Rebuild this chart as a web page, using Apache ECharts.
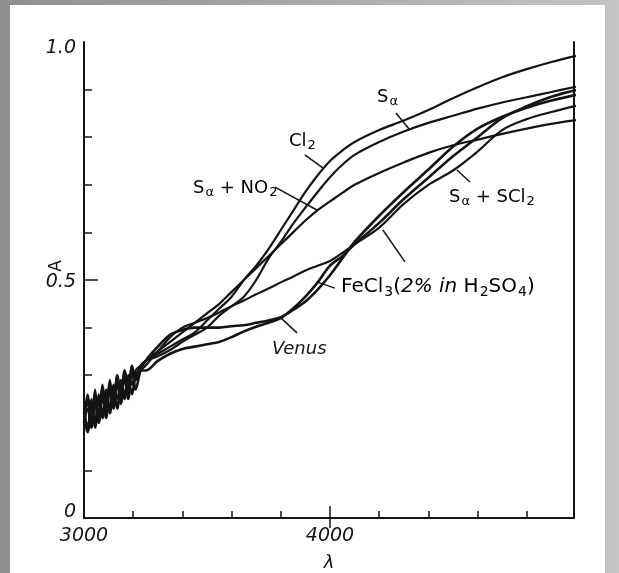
<!DOCTYPE html>
<html><head><meta charset="utf-8">
<script src="https://cdn.jsdelivr.net/npm/echarts@6/dist/echarts.min.js"></script>
<style>html,body{margin:0;padding:0;}#c{width:619px;height:573px;}</style>
</head><body><div id="c"></div>
<script>
var wigLam = [3000,3015,3030,3045,3060,3075,3090,3105,3120,3135,3150,3165,3180,3195,3210,3230];
var lamMain = [3250,3300,3350,3400,3450,3500,3550,3600,3650,3700,3750,3800,3850,3900,3950,4000,4050,4100,4200,4300,4400,4500,4600,4700,4800,4900,5000];

var cl2Wig   = [0.21,0.26,0.20,0.27,0.21,0.28,0.23,0.29,0.24,0.30,0.26,0.31,0.27,0.32,0.29,0.32];
var cl2Main  = [0.33,0.345,0.36,0.375,0.39,0.415,0.44,0.465,0.50,0.53,0.565,0.605,0.645,0.685,0.72,0.75,0.772,0.79,0.815,0.835,0.857,0.882,0.905,0.926,0.943,0.958,0.971];

var saWig    = [0.23,0.19,0.25,0.20,0.26,0.22,0.27,0.23,0.28,0.25,0.29,0.26,0.30,0.28,0.31,0.32];
var saMain   = [0.33,0.34,0.353,0.37,0.385,0.40,0.425,0.445,0.465,0.50,0.545,0.58,0.618,0.652,0.685,0.716,0.742,0.763,0.79,0.812,0.83,0.845,0.86,0.873,0.884,0.895,0.906];

var no2Wig   = [0.20,0.24,0.21,0.25,0.22,0.26,0.23,0.27,0.25,0.29,0.26,0.30,0.27,0.31,0.30,0.32];
var no2Main  = [0.33,0.35,0.37,0.39,0.41,0.43,0.45,0.475,0.50,0.525,0.55,0.575,0.60,0.625,0.647,0.665,0.683,0.70,0.725,0.747,0.767,0.783,0.795,0.807,0.818,0.828,0.836];

var scl2Wig  = [0.18,0.23,0.19,0.24,0.20,0.25,0.22,0.27,0.23,0.28,0.25,0.29,0.26,0.30,0.29,0.31];
var scl2Main = [0.32,0.35,0.38,0.40,0.41,0.42,0.432,0.445,0.457,0.47,0.482,0.495,0.507,0.52,0.53,0.54,0.557,0.575,0.61,0.66,0.70,0.73,0.77,0.815,0.838,0.853,0.866];

var fecl3Wig = [0.22,0.18,0.24,0.19,0.25,0.21,0.26,0.22,0.27,0.23,0.28,0.25,0.29,0.26,0.30,0.31];
var fecl3Main= [0.31,0.33,0.345,0.355,0.36,0.365,0.37,0.38,0.392,0.402,0.41,0.42,0.44,0.465,0.495,0.53,0.55,0.575,0.62,0.67,0.715,0.76,0.80,0.84,0.865,0.885,0.899];

var venusWig = [0.20,0.25,0.19,0.26,0.20,0.27,0.21,0.28,0.23,0.30,0.24,0.31,0.25,0.32,0.27,0.31];
var venusMain= [0.33,0.36,0.385,0.395,0.40,0.40,0.40,0.403,0.405,0.41,0.415,0.422,0.437,0.455,0.48,0.51,0.545,0.58,0.635,0.685,0.732,0.78,0.818,0.843,0.862,0.877,0.889];

var xTickLabels = [3000,4000];
var yTickLabels = [0,0.5,1.0];

function pairs(lw, aw, lm, am){
  var out=[];
  for(var i=0;i<lw.length;i++) out.push([lw[i],aw[i]]);
  for(var j=0;j<lm.length;j++) out.push([lm[j],am[j]]);
  return out;
}

var chart = echarts.init(document.getElementById('c'), null, {renderer:'canvas'});
var ink = '#141414';
function lineSeries(name, data, w){
  return {name:name, type:'line', data:data, showSymbol:false, smooth:0.35,
    lineStyle:{color:ink, width:w||2.2}, silent:true, z:3};
}
function leader(a,b){ return [{coord:a},{coord:b}]; }
var fontFam = '"DejaVu Sans",sans-serif';
var richSet = {
  n:{fontSize:18, fontFamily:fontFam, color:ink},
  s:{fontSize:13, fontFamily:fontFam, padding:[10,0,0,1], color:ink},
  i:{fontSize:18, fontFamily:fontFam, color:ink, fontStyle:'italic'}
};
var richBig = {
  n:{fontSize:20, fontFamily:fontFam, color:ink},
  s:{fontSize:14, fontFamily:fontFam, padding:[11,0,0,1], color:ink},
  i:{fontSize:20, fontFamily:fontFam, color:ink, fontStyle:'italic'}
};
function label(x, y, txt, rich){
  return {type:'text', x:x, y:y, z:20, silent:true,
    style:{text:txt, rich:rich||richSet, align:'left', verticalAlign:'middle'}};
}

var option = {
  animation:false,
  backgroundColor:{type:'linear',x:0,y:0,x2:1,y2:0,colorStops:[{offset:0,color:'#8e8e8e'},{offset:1,color:'#c4c4c4'}]},
  graphic:[
    {type:'rect', shape:{x:10,y:5,width:595,height:568}, style:{fill:'#ffffff'}, z:-10, silent:true},
    label(377, 97, '{n|S}{s|α}'),
    label(289, 141, '{n|Cl}{s|2}'),
    label(193, 188, '{n|S}{s|α}{n| + NO}{s|2}'),
    label(449, 197, '{n|S}{s|α}{n| + SCl}{s|2}'),
    label(341, 287, '{n|FeCl}{s|3}{n|(}{i|2% in }{n|H}{s|2}{n|SO}{s|4}{n|)}', richBig),
    {type:'text', x:272, y:349, z:20, silent:true,
     style:{text:'Venus', font:'italic 18px "DejaVu Sans",sans-serif', fill:ink, align:'left', verticalAlign:'middle'}},
    {type:'text', x:57, y:266, rotation:Math.PI/2, z:20, silent:true,
     style:{text:'A', font:'17px "DejaVu Sans",sans-serif', fill:ink, align:'center', verticalAlign:'middle'}}
  ],
  grid:{left:84, right:45, top:42, bottom:55, outerBoundsMode:'none', containLabel:false},
  xAxis:[
    {type:'value', min:3000, max:4992, interval:200, position:'bottom',
     name:'λ', nameLocation:'middle', nameGap:36, nameMoveOverlap:false,
     nameTextStyle:{fontSize:18, fontStyle:'italic', color:ink, fontFamily:'"DejaVu Sans",sans-serif'},
     axisLine:{show:true, lineStyle:{color:ink, width:2}},
     axisTick:{show:true, inside:true, length:7, lineStyle:{color:ink,width:1.5}, customValues:[3200,3400,3600,3800,4200,4400,4600,4800]},
     axisLabel:{customValues:xTickLabels, margin:9, fontSize:19, fontStyle:'italic', color:ink, fontFamily:'"DejaVu Sans",sans-serif',
       formatter:function(v){ return String(v); }},
     splitLine:{show:false}},
    {type:'value', min:3000, max:4992, interval:200, position:'bottom',
     axisLine:{show:false},
     axisTick:{show:true, inside:true, length:12, lineStyle:{color:ink,width:1.5}, customValues:[4000]},
     axisLabel:{show:false}, splitLine:{show:false}},
    {type:'value', min:3000, max:4992, interval:200, position:'top',
     axisLine:{show:true, lineStyle:{color:ink, width:2}},
     axisTick:{show:true, inside:true, length:10, lineStyle:{color:ink,width:1.5}, customValues:[4000]},
     axisLabel:{show:false}, splitLine:{show:false}}
  ],
  yAxis:[
    {type:'value', min:0, max:1, interval:0.1, position:'left',
     axisLine:{show:true, lineStyle:{color:ink, width:2}},
     axisTick:{show:true, inside:true, length:8, lineStyle:{color:ink,width:1.5}, customValues:[0.1,0.2,0.3,0.4,0.6,0.7,0.8,0.9]},
     axisLabel:{customValues:yTickLabels, margin:8,
       formatter:function(v){ if(v===0) return '{lo|0}'; if(v===1) return '{hi|1.0}'; return '{m|0.5}'; },
       rich:{
         lo:{fontSize:19, fontStyle:'italic', color:ink, fontFamily:'"DejaVu Sans",sans-serif', padding:[0,0,12,0]},
         hi:{fontSize:19, fontStyle:'italic', color:ink, fontFamily:'"DejaVu Sans",sans-serif', padding:[12,0,0,0]},
         m:{fontSize:19, fontStyle:'italic', color:ink, fontFamily:'"DejaVu Sans",sans-serif', padding:[4,0,0,0]}
       }},
     splitLine:{show:false}},
    {type:'value', min:0, max:1, interval:0.1, position:'left',
     axisLine:{show:false},
     axisTick:{show:true, inside:true, length:14, lineStyle:{color:ink,width:1.5}, customValues:[0.5]},
     axisLabel:{show:false}, splitLine:{show:false}},
    {type:'value', min:0, max:1, interval:0.1, position:'right',
     axisLine:{show:true, lineStyle:{color:ink, width:2}},
     axisTick:{show:false}, axisLabel:{show:false}, splitLine:{show:false}}
  ],
  series:[
    lineSeries('Cl2', pairs(wigLam, cl2Wig, lamMain, cl2Main)),
    lineSeries('Sα', pairs(wigLam, saWig, lamMain, saMain)),
    lineSeries('Sα + NO2', pairs(wigLam, no2Wig, lamMain, no2Main)),
    lineSeries('Sα + SCl2', pairs(wigLam, scl2Wig, lamMain, scl2Main)),
    lineSeries('FeCl3', pairs(wigLam, fecl3Wig, lamMain, fecl3Main), 2.6),
    (function(){ var s = lineSeries('Venus', pairs(wigLam, venusWig, lamMain, venusMain), 2.6);
      s.markLine = {silent:true, symbol:['none','none'], label:{show:false},
        lineStyle:{color:ink, width:1.5, type:'solid'},
        data:[
          leader([4268,0.851],[4325,0.815]),
          leader([3898,0.763],[3972,0.735]),
          leader([3776,0.695],[3947,0.647]),
          leader([4516,0.731],[4569,0.706]),
          leader([3947,0.496],[4020,0.483]),
          leader([4215,0.605],[4305,0.538]),
          leader([3797,0.422],[3866,0.389])
        ]};
      return s; })()
  ]
};
chart.setOption(option);
</script></body></html>
